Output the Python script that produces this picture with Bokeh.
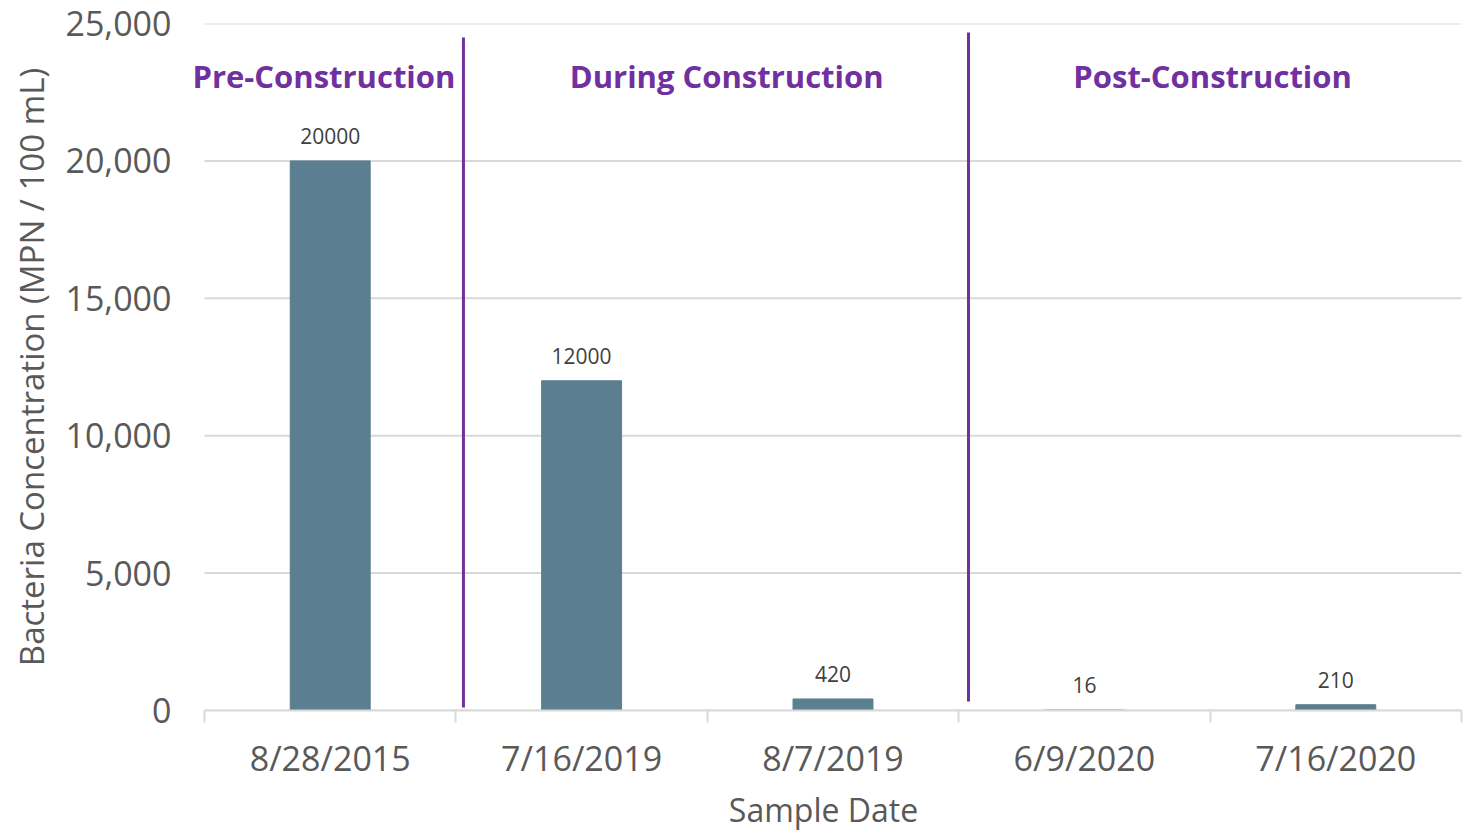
import numpy as np
from bokeh.plotting import figure
from bokeh.models import ColumnDataSource, FixedTicker, NumeralTickFormatter, Range1d, LabelSet, Label
from bokeh.core.properties import value
from bokeh.embed import file_html
from bokeh.resources import INLINE

# ---- data ----
dates = ["8/28/2015", "7/16/2019", "8/7/2019", "6/9/2020", "7/16/2020"]
concentrations = [20000, 12000, 420, 16, 210]
phase_names = ["Pre-Construction", "During Construction", "Post-Construction"]
y_ticks = [0, 5000, 10000, 15000, 20000, 25000]

# ---- layout / style constants ----
FONT = "Open Sans"
BAR_COLOR = "#5B7F91"
PURPLE = "#7030A0"
GRID = "#D9D9D9"
TEXT = "#595959"
LEFT_PAD = 0.0756          # extra room left of the first category (so the first phase title is not clipped)
phase_label_x = [0.475, 2.077, 4.01]
phase_label_y = 23100
divider_x = [1.03, 3.039]
divider_y0 = [109, 326]
divider_y1 = [24493, 24674]

n = len(dates)
x_pos = np.arange(n) + 0.5

p = figure(width=1473, height=833, output_backend="svg", toolbar_location=None,
           x_range=Range1d(-LEFT_PAD, n), y_range=Range1d(0, 25000),
           min_border_top=23, min_border_right=12, min_border_left=185, min_border_bottom=10)
p.outline_line_color = None
p.background_fill_color = "white"
p.border_fill_color = "white"

# horizontal gridlines limited to the category area
p.segment(x0=[0] * len(y_ticks), x1=[n] * len(y_ticks), y0=y_ticks, y1=y_ticks,
          line_color=GRID, line_width=2, level="underlay")

src = ColumnDataSource(dict(x=x_pos, top=concentrations, date=dates,
                            lbl=[str(v) for v in concentrations]))
p.vbar(x="x", top="top", width=0.318, bottom=0, color=BAR_COLOR, source=src)

labels = LabelSet(x="x", y="top", text="lbl", source=src, y_offset=25,
                  text_align="center", text_baseline="middle",
                  text_font=value(FONT), text_font_size="21px", text_color="#404040")
p.add_layout(labels)

# phase dividers
p.segment(x0=divider_x, x1=divider_x, y0=divider_y0, y1=divider_y1,
          line_color=PURPLE, line_width=3)

# phase labels
for px, name in zip(phase_label_x, phase_names):
    p.add_layout(Label(x=px, y=phase_label_y, text=name,
                       text_align="center", text_baseline="middle",
                       text_font=FONT, text_font_size="31px",
                       text_font_style="bold", text_color=PURPLE))

# x axis
xa = p.xaxis[0]
xa.bounds = (0, n)
xa.ticker = FixedTicker(ticks=list(x_pos), minor_ticks=list(range(n + 1)))
xa.major_label_overrides = {float(x): d for x, d in zip(x_pos, dates)}
xa.major_tick_line_color = None
xa.major_tick_out = 0
xa.major_tick_in = 0
xa.minor_tick_line_color = GRID
xa.minor_tick_line_width = 2
xa.minor_tick_out = 12
xa.minor_tick_in = 0
xa.axis_line_color = GRID
xa.axis_line_width = 2
xa.major_label_text_font = FONT
xa.major_label_text_font_size = "34px"
xa.major_label_text_color = TEXT
xa.major_label_standoff = 12
xa.axis_label = "Sample Date"
xa.axis_label_text_font = FONT
xa.axis_label_text_font_size = "32px"
xa.axis_label_text_font_style = "normal"
xa.axis_label_text_color = TEXT
xa.axis_label_standoff = 4

# y axis
ya = p.yaxis[0]
ya.ticker = FixedTicker(ticks=y_ticks)
ya.formatter = NumeralTickFormatter(format="0,0")
ya.axis_line_color = None
ya.major_tick_line_color = None
ya.minor_tick_line_color = None
ya.major_tick_out = 0
ya.major_label_standoff = 14
ya.major_label_text_font = FONT
ya.major_label_text_font_size = "34px"
ya.major_label_text_color = TEXT
ya.axis_label = "Bacteria Concentration (MPN / 100 mL)"
ya.axis_label_text_font = FONT
ya.axis_label_text_font_size = "33px"
ya.axis_label_text_font_style = "normal"
ya.axis_label_text_color = TEXT
ya.axis_label_standoff = 8

p.xgrid.grid_line_color = None
p.ygrid.grid_line_color = None

open("out.html", "w").write(file_html(p, INLINE))
